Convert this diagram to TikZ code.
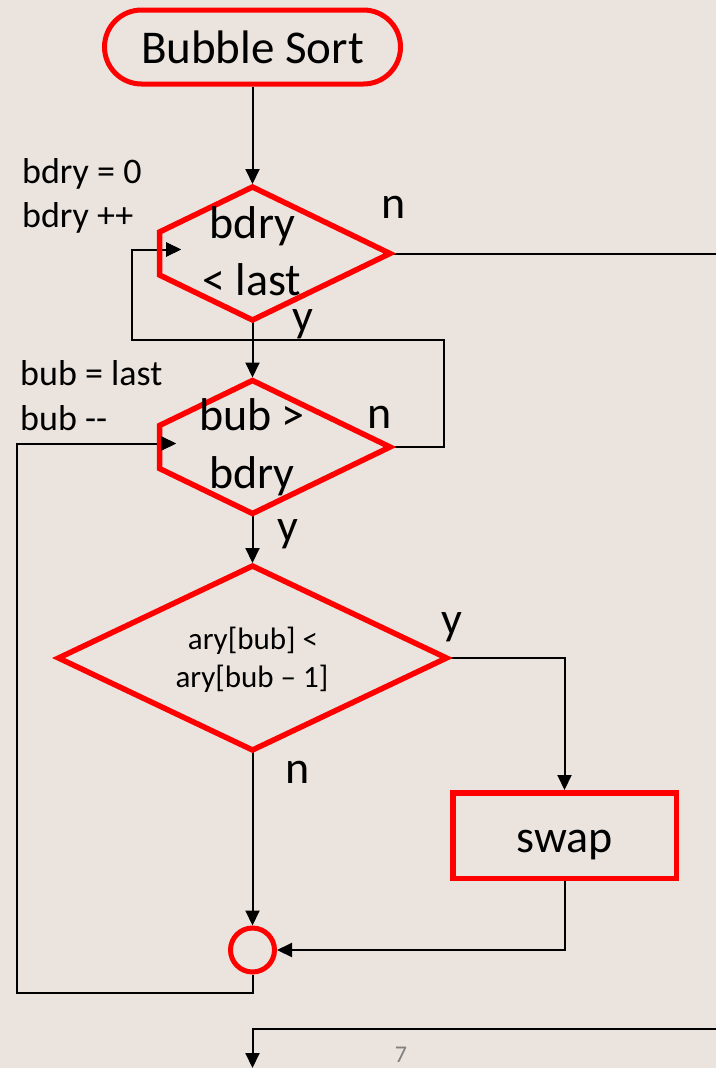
\documentclass[tikz,border=0pt]{standalone}
\usepackage{fontspec}
\setmainfont{Carlito}
\usetikzlibrary{arrows.meta}
\definecolor{bgcol}{RGB}{235,228,222}
\definecolor{pagegray}{RGB}{128,128,128}
\begin{document}
\begin{tikzpicture}[x=1pt,y=-1pt,
  redshape/.style={draw=red, line width=5.5pt, line join=miter},
  conn/.style={draw=black, line width=2pt},
  arr/.style={conn, -{Triangle[length=15pt,width=14pt]}},
  bigtxt/.style={font=\fontsize{46}{52}\selectfont, inner sep=0pt, anchor=base},
  midtxt/.style={font=\fontsize{31}{36}\selectfont, inner sep=0pt, anchor=base},
  sidetxt/.style={font=\fontsize{36}{42}\selectfont, inner sep=0pt, anchor=base west},
]
\fill[bgcol] (0,0) rectangle (716,1068);
\useasboundingbox (0,0) rectangle (716,1068);

% ---- shape geometry (path vertices) ----
\coordinate (d1t) at (252.5,187);
\coordinate (d1r) at (390,253.5);
\coordinate (d1b) at (252.5,320);
\coordinate (d1ll) at (159.5,275);
\coordinate (d1ul) at (159.5,232);
\coordinate (d1N) at (252.5,184);

\coordinate (d2t) at (252.5,380.5);
\coordinate (d2r) at (390,447);
\coordinate (d2b) at (252.5,513.5);
\coordinate (d2ll) at (159.5,468.5);
\coordinate (d2ul) at (159.5,425.5);
\coordinate (d2N) at (252.5,377.5);

\coordinate (d3t) at (252.5,566);
\coordinate (d3r) at (446.5,658);
\coordinate (d3b) at (252.5,750);
\coordinate (d3l) at (58.5,658);
\coordinate (d3N) at (252.5,563);

% ---- helper coordinates for connectors ----
\coordinate (exitTop) at (716,253.5);
\coordinate (L1top) at (444,340);
\coordinate (L1left) at (132,340);
\coordinate (in1) at (181,249.5);
\coordinate (L2corner) at (17,993);
\coordinate (in2) at (176,443.5);
\coordinate (exitR) at (716,1029);
\coordinate (exitB) at (252.5,1068);

% ---- nodes ----
\node[draw=red, line width=5pt, rounded corners=37pt, minimum width=296pt,
      minimum height=74pt, inner sep=0pt, font=\fontsize{47}{52}\selectfont]
      (start) at (252.5,47) {Bubble Sort};
\node[draw=red, line width=5.5pt, minimum width=223.5pt, minimum height=85.5pt,
      inner sep=0pt] (swap) at (564.5,835.5) {};
\node[circle, draw=red, line width=5pt, minimum size=44pt, inner sep=0pt]
      (join) at (252.5,950) {};

% ---- connectors (drawn beneath the red shapes) ----
\draw[arr] (start.south) -- (d1N);
\draw[conn] (d1r) -- (exitTop);
\draw[arr] (d1b) -- (d2N);
\draw[arr] (d2r) -| (L1top) -- (L1left) |- (in1);
\draw[arr] (d2b) -- (d3N);
\draw[arr] (d3r) -| (swap.north);
\draw[arr] (d3b) -- (join.north);
\draw[arr] (swap.south) |- (join.east);
\draw[arr] (join.south) |- (L2corner) |- (in2);
\draw[arr] (exitR) -| (exitB);

% ---- red decision shapes ----
\draw[redshape] (d1t) -- (d1r) -- (d1b) -- (d1ll) -- (d1ul) -- cycle;
\draw[redshape] (d2t) -- (d2r) -- (d2b) -- (d2ll) -- (d2ul) -- cycle;
\draw[redshape] (d3t) -- (d3r) -- (d3b) -- (d3l) -- cycle;
% redraw the left arrow heads on top of the red edges
\draw[arr] (170,249.5) -- (in1);
\draw[arr] (165,443.5) -- (in2);

% ---- texts ----
\node[bigtxt] (t1a) at (252.5,238) {bdry};
\node[bigtxt] (t1b) at (252,295) {< last};
\node[bigtxt] (t2a) at (252,430) {bub >};
\node[bigtxt] (t2b) at (252,488) {bdry};
\node[midtxt] (t3a) at (253,649) {ary[bub] <};
\node[midtxt] (t3b) at (252,687) {ary[bub – 1]};
\node[bigtxt] (tswap) at (564.5,852) {swap};

\node[bigtxt] (n1) at (394,218) {n};
\node[bigtxt] (y1) at (303,331) {y};
\node[bigtxt] (n2) at (380,428) {n};
\node[bigtxt] (y2) at (288,541) {y};
\node[bigtxt] (y3) at (452,634) {y};
\node[bigtxt] (n3) at (298,783) {n};

\node[sidetxt] (s1) at (22,183) {bdry = 0};
\node[sidetxt] (s2) at (22,227) {bdry ++};
\node[sidetxt] (s3) at (20,385) {bub = last};
\node[sidetxt] (s4) at (20,430) {bub {-}{-}};

\node[font=\fontsize{24}{28}\selectfont, text=pagegray, inner sep=0pt, anchor=base]
      (pg) at (401,1062) {7};
\end{tikzpicture}
\end{document}
